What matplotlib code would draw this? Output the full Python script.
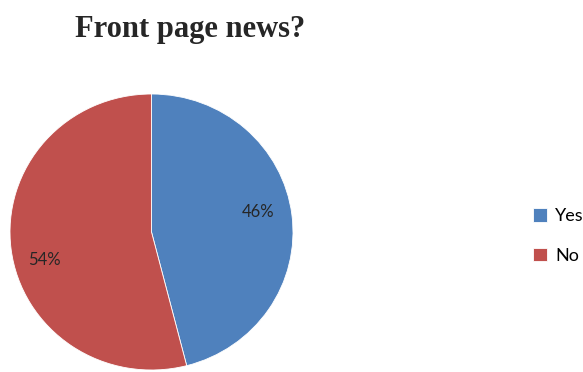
import matplotlib.pyplot as plt

# Data
labels = ['Yes', 'No']
shares = [46, 54]
colors = ['#4F81BD', '#C0504D']

fig = plt.figure(figsize=(5.83, 3.72), dpi=100)
ax = fig.add_axes([10 / 583, 2 / 372, 283 / 583, 276 / 372])

wedges, texts, autotexts = ax.pie(
    shares, colors=colors, startangle=90, counterclock=False,
    autopct='%1.0f%%', pctdistance=0.76,
    wedgeprops=dict(edgecolor='white', linewidth=0.6),
    textprops=dict(fontsize=12, color='#262626', family='Lato'))
# nudge the percentage labels to where the original puts them
for t, dy in zip(autotexts, [0.05, -0.11]):
    x, y = t.get_position()
    t.set_position((x, y + dy))
ax.set_xlim(-1, 1)
ax.set_ylim(-1, 1)
ax.set_aspect('auto')
ax.axis('off')

fig.text(190 / 583, 1 - 29 / 372, 'Front page news?', ha='center', va='center',
         fontsize=22, fontweight='bold', family='Liberation Serif', color='#262626')

fig.legend(wedges, labels, loc='center left', bbox_to_anchor=(517 / 583, 1 - 236 / 372),
           frameon=False, prop=dict(family='Lato', size=13),
           handlelength=0.75, handleheight=0.75, labelspacing=1.3, handletextpad=0.45)

fig.savefig('out.png', dpi=100)
